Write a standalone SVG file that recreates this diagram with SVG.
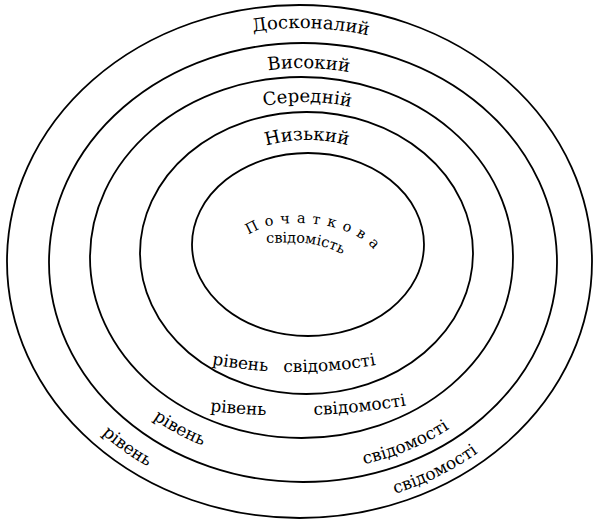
<svg xmlns="http://www.w3.org/2000/svg" width="594" height="520" viewBox="0 0 594 520">
<style>
.ring{fill:none;stroke:#000;stroke-width:1.8}
.t{font-family:"DejaVu Serif","Liberation Serif",serif;fill:#000}
.lbl{font-size:18px}
.bot{font-size:17px}
.inn{font-size:14.5px}
</style>
<defs>
<path id="pTop1" d="M190,49.1 A268,234 0 0 1 430,56.9"/>
<path id="pTop2" d="M200,89.2 A222.8,190.8 0 0 1 416,94.9"/>
<path id="pTop3" d="M217,121.6 A179.4,152.3 0 0 1 397,123.5"/>
<path id="pTop4" d="M237,157.2 A129.6,106.8 0 0 1 377,156.6"/>
<path id="pIn1" d="M247,238 C262,216 348,216 376,252"/>
<path id="pIn2" d="M266,243 C300,242 325,240 362,266"/>
<path id="pRow1" d="M200,362 Q300,383 400,360"/>
<path id="pRow2" d="M200,410 Q310,423.5 420,403"/>
<path id="pRow3a" d="M152,418.2 A237,204 0 0 0 235,456.1"/>
<path id="pRow3b" d="M363,464.5 A243.6,209.8 0 0 0 480,405.1"/>
<path id="pRow4a" d="M101,433 A279.4,244.7 0 0 0 190,486.5"/>
<path id="pRow4b" d="M394,493.9 A282.1,246 0 0 0 520,416.3"/>
</defs>
<g id="ring-perfect"><ellipse class="ring" cx="299.5" cy="261.5" rx="292.5" ry="256.5"/></g>
<g id="ring-high"><ellipse class="ring" cx="303" cy="262.5" rx="254" ry="219.5"/></g>
<g id="ring-medium"><ellipse class="ring" cx="301.5" cy="257.5" rx="211.5" ry="180.5"/></g>
<g id="ring-low"><ellipse class="ring" cx="306.5" cy="253" rx="166.5" ry="141"/></g>
<g id="ring-initial"><ellipse class="ring" cx="308" cy="244.5" rx="116" ry="91.5"/></g>
<g id="labels-top">
<text class="t lbl" text-anchor="middle"><textPath href="#pTop1" startOffset="50%">Досконалий</textPath></text>
<text class="t lbl" text-anchor="middle"><textPath href="#pTop2" startOffset="50%">Високий</textPath></text>
<text class="t lbl" text-anchor="middle"><textPath href="#pTop3" startOffset="50%">Середній</textPath></text>
<text class="t lbl" text-anchor="middle"><textPath href="#pTop4" startOffset="50%">Низький</textPath></text>
</g>
<g id="labels-inner">
<text class="t inn" letter-spacing="6.5"><textPath href="#pIn1" startOffset="3">Початкова</textPath></text>
<text class="t inn"><textPath href="#pIn2" startOffset="0">свідомість</textPath></text>
</g>
<g id="labels-bottom">
<text class="t bot"><textPath href="#pRow1" startOffset="12">рівень</textPath></text>
<text class="t bot"><textPath href="#pRow1" startOffset="84">свідомості</textPath></text>
<text class="t bot"><textPath href="#pRow2" startOffset="10">рівень</textPath></text>
<text class="t bot"><textPath href="#pRow2" startOffset="114">свідомості</textPath></text>
<text class="t bot"><textPath href="#pRow3a" startOffset="1">рівень</textPath></text>
<text class="t bot"><textPath href="#pRow3b" startOffset="1">свідомості</textPath></text>
<text class="t bot"><textPath href="#pRow4a" startOffset="1">рівень</textPath></text>
<text class="t bot"><textPath href="#pRow4b" startOffset="1">свідомості</textPath></text>
</g>
</svg>
